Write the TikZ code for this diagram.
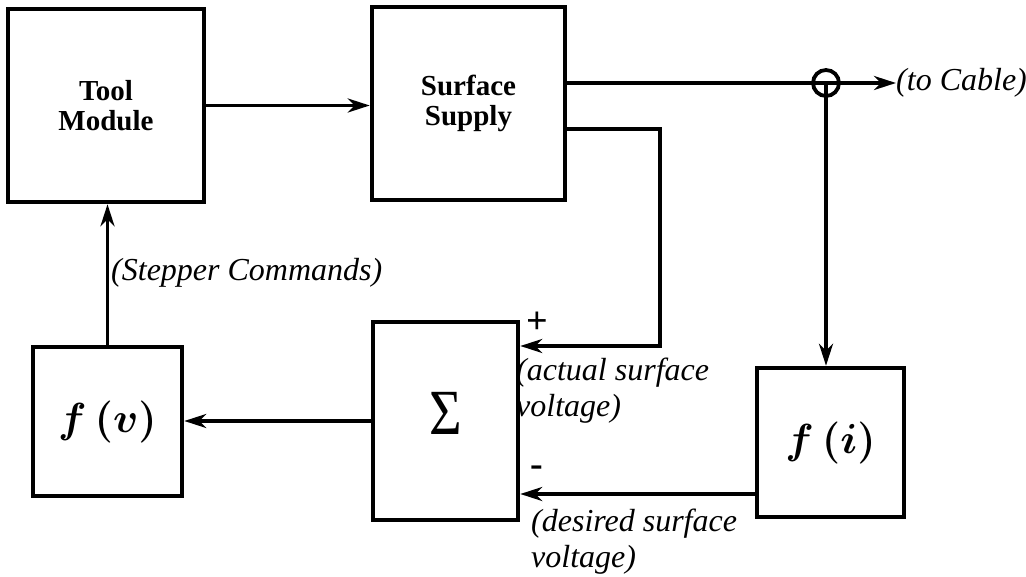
\documentclass[tikz,border=0pt]{standalone}
\usepackage{fix-cm}
\usepackage{fontspec}
\setmainfont{Liberation Serif}
\usetikzlibrary{arrows.meta}

\begin{document}
\begin{tikzpicture}[x=1pt,y=-1pt,
    block/.style={draw, line width=4.5pt, inner sep=0pt},
    wire/.style={line width=3.8pt},
    arr/.style={wire, -{Stealth[length=22pt,width=14pt,inset=7pt]}},
    boldlbl/.style={font=\fontsize{29}{30}\selectfont\bfseries, align=center},
    fnlbl/.style={font=\fontsize{42}{42}\selectfont\boldmath},
    note/.style={font=\fontsize{32}{36}\selectfont\itshape, inner sep=0pt, align=left},
    sign/.style={font=\fontsize{38}{38}\selectfont\bfseries, inner sep=0pt}]
    \useasboundingbox (0,0) rectangle (1026,577);

    % Blocks
    \node[block, boldlbl, minimum width=196pt, minimum height=193pt] (tool) at (106,105.5) {Tool\\Module};
    \node[block, boldlbl, minimum width=193pt, minimum height=193pt] (supply) at (468.5,103.5) {Surface\\Supply};
    \node[block, minimum width=145pt, minimum height=198pt, text depth=16pt, font=\fontsize{56}{56}\selectfont] (sum) at (445.5,421) {\scalebox{1}[1.15]{Σ}};
    \node[block, fnlbl, minimum width=149pt, minimum height=149pt] (fv) at (107.5,421.5) {$f\,(v)$};
    \node[block, fnlbl, minimum width=147pt, minimum height=149pt] (fi) at (830.5,442.5) {$f\,(i)$};
    \node[draw, circle, wire, minimum size=26pt, inner sep=0pt] (jn) at (826,83) {};

    % Labels
    \node[note, anchor=west] (cable) at (896,83) {(to Cable)};
    \node[note, anchor=west] (stepper) at (111,273) {(Stepper Commands)};
    \node[note, anchor=north west] (actual) at (516,358) {(actual surface\\voltage)};
    \node[note, anchor=north west] (desired) at (531,509) {(desired surface\\voltage)};
    \node[sign] (plus) at (537,323) {+};
    \node[sign] (minus) at (537,471) {-};

    % Signal paths
    \coordinate (fb) at (660,346);
    \draw[arr] (tool.east) -- (tool.east -| supply.west);
    \draw[arr] ([yshift=20.5pt]supply.east) -- (cable.west);
    \draw[arr] (jn.center) -- (jn.center |- fi.north);
    \draw[arr] ([yshift=-25.5pt]supply.east) -| (fb) -- (fb -| sum.east);
    \draw[arr] ([yshift=-51.5pt]fi.west) -- ([yshift=-51.5pt]fi.west -| sum.east);
    \draw[arr] (sum.west) -- (sum.west -| fv.east);
    \draw[arr] (fv.north) -- (fv.north |- tool.south);
\end{tikzpicture}
\end{document}
